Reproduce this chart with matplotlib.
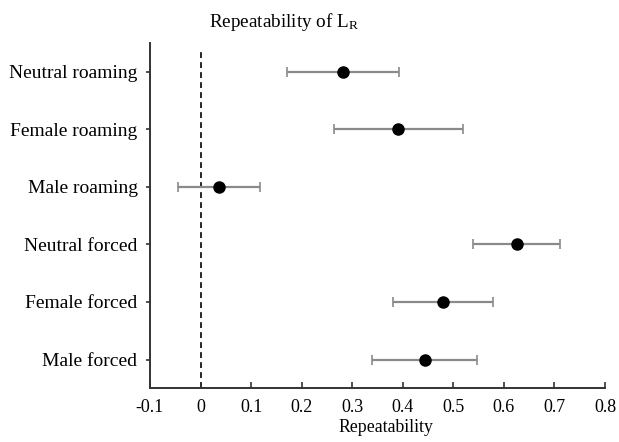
import matplotlib
matplotlib.use("Agg")
import matplotlib.pyplot as plt

categories = ["Neutral roaming", "Female roaming", "Male roaming",
              "Neutral forced", "Female forced", "Male forced"]
estimates = [0.281, 0.391, 0.036, 0.625, 0.480, 0.444]
lower = [0.170, 0.264, -0.044, 0.539, 0.381, 0.340]
upper = [0.393, 0.519, 0.118, 0.711, 0.578, 0.547]
xticks = [-0.1, 0, 0.1, 0.2, 0.3, 0.4, 0.5, 0.6, 0.7, 0.8]
xticklabels = ["-0.1", "0", "0.1", "0.2", "0.3", "0.4", "0.5", "0.6", "0.7", "0.8"]

plt.rcParams['font.family'] = ['Liberation Serif', 'DejaVu Serif']
plt.rcParams['mathtext.fontset'] = 'custom'
plt.rcParams['mathtext.rm'] = 'Liberation Serif'
plt.rcParams['mathtext.it'] = 'Liberation Serif:italic'

fig = plt.figure(figsize=(6.19, 4.42), dpi=100)
ax = fig.add_axes([150/619, 1-388.3/442, (605-150)/619, (388.3-42.7)/442])

ypos = list(range(1, len(categories) + 1))
xerr = [[e - l for e, l in zip(estimates, lower)], [u - e for e, u in zip(estimates, upper)]]
ax.errorbar(estimates, ypos, xerr=xerr, fmt='none', ecolor='#8a8a8a',
            elinewidth=1.6, capsize=3.5, capthick=1.2, zorder=2)
ax.plot(estimates, ypos, 'o', color='black', markersize=8, zorder=3)

ax.axvline(0, ymin=0, ymax=0.973, color='black', linestyle=(0, (3.5, 2.5)), linewidth=1.2, zorder=1)

ax.set_xlim(-0.1, 0.8)
ax.set_ylim(6.5, 0.5)
ax.set_yticks(ypos)
ax.set_yticklabels(categories, fontsize=14)
ax.set_xticks(xticks)
ax.set_xticklabels(xticklabels, fontsize=13)
ax.tick_params(axis='x', direction='in', length=4, width=1.2, pad=8, color='#333333')
ax.tick_params(axis='y', direction='out', length=3, width=1.2, pad=6, color='#333333')
for s in ['top', 'right']:
    ax.spines[s].set_visible(False)
for s in ['left', 'bottom']:
    ax.spines[s].set_linewidth(1.4)
    ax.spines[s].set_color('#333333')

fig.text(386/619, 1-428/442, "Repeatability", ha='center', va='center', fontsize=12.8)
fig.text(284/619, 1-22/442, r"Repeatability of L$_\mathrm{R}$", ha='center', va='center', fontsize=13.8)

fig.savefig("out.png", dpi=100)
